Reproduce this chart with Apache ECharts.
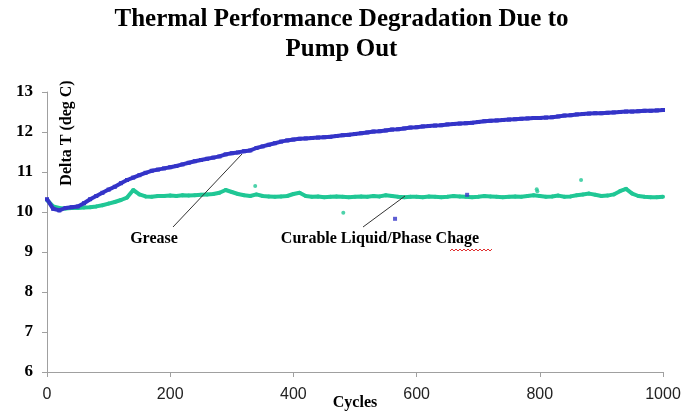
<!DOCTYPE html>
<html>
<head>
<meta charset="utf-8">
<script src="https://cdn.jsdelivr.net/npm/echarts@6/dist/echarts.min.js"></script>
<style>
  html, body { margin: 0; padding: 0; background: #fff; }
  #chart { width: 683px; height: 413px; }
</style>
</head>
<body>
<div id="chart"></div>
<script>
// cycles, every 10
var cycles = [];
for (var c = 0; c <= 1000; c += 10) cycles.push(c);

// Grease (blue)
var greaseY = [
  10.32, 10.08, 10.04, 10.10, 10.12, 10.14, 10.22, 10.32, 10.40, 10.48,
  10.56, 10.63, 10.72, 10.80, 10.86, 10.92, 10.98, 11.03, 11.06, 11.09,
  11.12, 11.15, 11.19, 11.23, 11.27, 11.30, 11.33, 11.36, 11.39, 11.44,
  11.47, 11.49, 11.52, 11.54, 11.60, 11.64, 11.68, 11.72, 11.76, 11.79,
  11.81, 11.83, 11.84, 11.85, 11.86, 11.87, 11.88, 11.90, 11.92, 11.93,
  11.95, 11.97, 11.99, 12.01, 12.02, 12.04, 12.06, 12.07, 12.09, 12.11,
  12.12, 12.14, 12.15, 12.16, 12.17, 12.19, 12.20, 12.21, 12.22, 12.23,
  12.25, 12.27, 12.28, 12.29, 12.30, 12.31, 12.32, 12.33, 12.34, 12.35,
  12.35, 12.36, 12.37, 12.39, 12.41, 12.42, 12.44, 12.45, 12.46, 12.47,
  12.47, 12.48, 12.49, 12.50, 12.51, 12.51, 12.52, 12.53, 12.53, 12.54,
  12.55
];

// Curable Liquid/Phase Change (green)
var curableY = [
  10.30, 10.14, 10.10, 10.09, 10.10, 10.10, 10.11, 10.12, 10.14, 10.17,
  10.21, 10.25, 10.30, 10.36, 10.55, 10.44, 10.39, 10.38, 10.40, 10.40,
  10.41, 10.40, 10.42, 10.41, 10.42, 10.43, 10.44, 10.45, 10.48, 10.55,
  10.50, 10.45, 10.42, 10.40, 10.44, 10.40, 10.39, 10.38, 10.39, 10.40,
  10.45, 10.48, 10.40, 10.38, 10.39, 10.37, 10.38, 10.39, 10.38, 10.37,
  10.38, 10.39, 10.38, 10.40, 10.39, 10.42, 10.40, 10.38, 10.37, 10.38,
  10.38, 10.37, 10.39, 10.38, 10.37, 10.38, 10.40, 10.39, 10.38, 10.37,
  10.38, 10.40, 10.39, 10.38, 10.37, 10.38, 10.39, 10.38, 10.40, 10.42,
  10.40, 10.38, 10.39, 10.41, 10.38, 10.39, 10.42, 10.44, 10.46, 10.43,
  10.40, 10.41, 10.44, 10.52, 10.58, 10.46, 10.40, 10.38, 10.37, 10.37,
  10.38
];

// stray points
var greaseStrayX = [565, 682];
var greaseStrayY = [9.83, 10.43];
var curableStrayX = [338, 481, 795, 796, 867];
var curableStrayY = [10.65, 9.98, 10.57, 10.52, 10.80];

var blue = '#3434c8';
var green = '#20c795';

function pairs(xs, ys) {
  return xs.map(function (x, i) { return [x, ys[i]]; });
}

var squiggle = [];
for (var i = 0; i <= 21; i++) squiggle.push([450 + i * 2, i % 2 ? 249 : 251]);

var labelFont = 'bold 16px "Liberation Serif"';

var chart = echarts.init(document.getElementById('chart'));
var option = {
  animation: false,
  backgroundColor: '#fff',
  title: {
    text: 'Thermal Performance Degradation Due to\nPump Out',
    left: 'center',
    top: 0,
    textStyle: {
      fontFamily: 'Liberation Serif',
      fontWeight: 'bold',
      fontSize: 25,
      lineHeight: 30,
      color: '#000'
    }
  },
  grid: { left: 47, right: 20, top: 92, bottom: 41, outerBoundsMode: 'none', containLabel: false },
  xAxis: {
    type: 'value',
    min: 0, max: 1000, interval: 200,
    axisLine: { lineStyle: { color: '#a0a0a0' } },
    axisTick: { length: 5, lineStyle: { color: '#a0a0a0' } },
    splitLine: { show: false },
    axisLabel: {
      fontFamily: 'Liberation Sans Narrow, Liberation Sans', fontSize: 16, color: '#222', margin: 15,
      formatter: function (v) { return String(v); }
    }
  },
  yAxis: {
    type: 'value',
    min: 6, max: 13, interval: 1,
    axisLine: { show: true, lineStyle: { color: '#a0a0a0' } },
    axisTick: { show: true, length: 5, lineStyle: { color: '#a0a0a0' } },
    splitLine: { show: false },
    axisLabel: { fontFamily: 'Liberation Serif', fontWeight: 'bold', fontSize: 17, color: '#000', margin: 14 }
  },
  series: [
    {
      name: 'Grease',
      type: 'line',
      data: pairs(cycles, greaseY),
      symbol: 'rect',
      symbolSize: 4,
      showAllSymbol: true,
      itemStyle: { color: blue },
      lineStyle: { color: blue, width: 4 },
      z: 3
    },
    {
      name: 'Curable Liquid/Phase Chage',
      type: 'line',
      data: pairs(cycles, curableY),
      symbol: 'circle',
      symbolSize: 4,
      showAllSymbol: true,
      itemStyle: { color: green },
      lineStyle: { color: green, width: 4 },
      z: 2
    },
    {
      type: 'scatter',
      data: pairs(greaseStrayX, greaseStrayY),
      symbol: 'rect',
      symbolSize: 4,
      itemStyle: { color: blue }
    },
    {
      type: 'scatter',
      data: pairs(curableStrayX, curableStrayY),
      symbolSize: 4,
      itemStyle: { color: green }
    }
  ],
  graphic: [
    // axis titles
    {
      type: 'text', x: 67, y: 133, rotation: Math.PI / 2,
      style: { text: 'Delta T (deg C)', font: labelFont, fill: '#000', align: 'center', verticalAlign: 'middle' }
    },
    {
      type: 'text', x: 355, y: 403,
      style: { text: 'Cycles', font: labelFont, fill: '#000', align: 'center', verticalAlign: 'middle' }
    },
    // callouts
    { type: 'line', shape: { x1: 173, y1: 227, x2: 242, y2: 154 }, style: { stroke: '#333', lineWidth: 1 }, z: 10 },
    {
      type: 'text', x: 154, y: 239,
      style: { text: 'Grease', font: labelFont, fill: '#000', align: 'center', verticalAlign: 'middle' }
    },
    { type: 'line', shape: { x1: 363, y1: 227, x2: 405, y2: 196 }, style: { stroke: '#333', lineWidth: 1 }, z: 10 },
    {
      type: 'text', x: 380, y: 239,
      style: { text: 'Curable Liquid/Phase Chage', font: labelFont, fill: '#000', align: 'center', verticalAlign: 'middle' }
    },
    { type: 'polyline', shape: { points: squiggle }, style: { stroke: '#e03030', lineWidth: 1, fill: null } }
  ]
};
chart.setOption(option);
</script>
</body>
</html>
